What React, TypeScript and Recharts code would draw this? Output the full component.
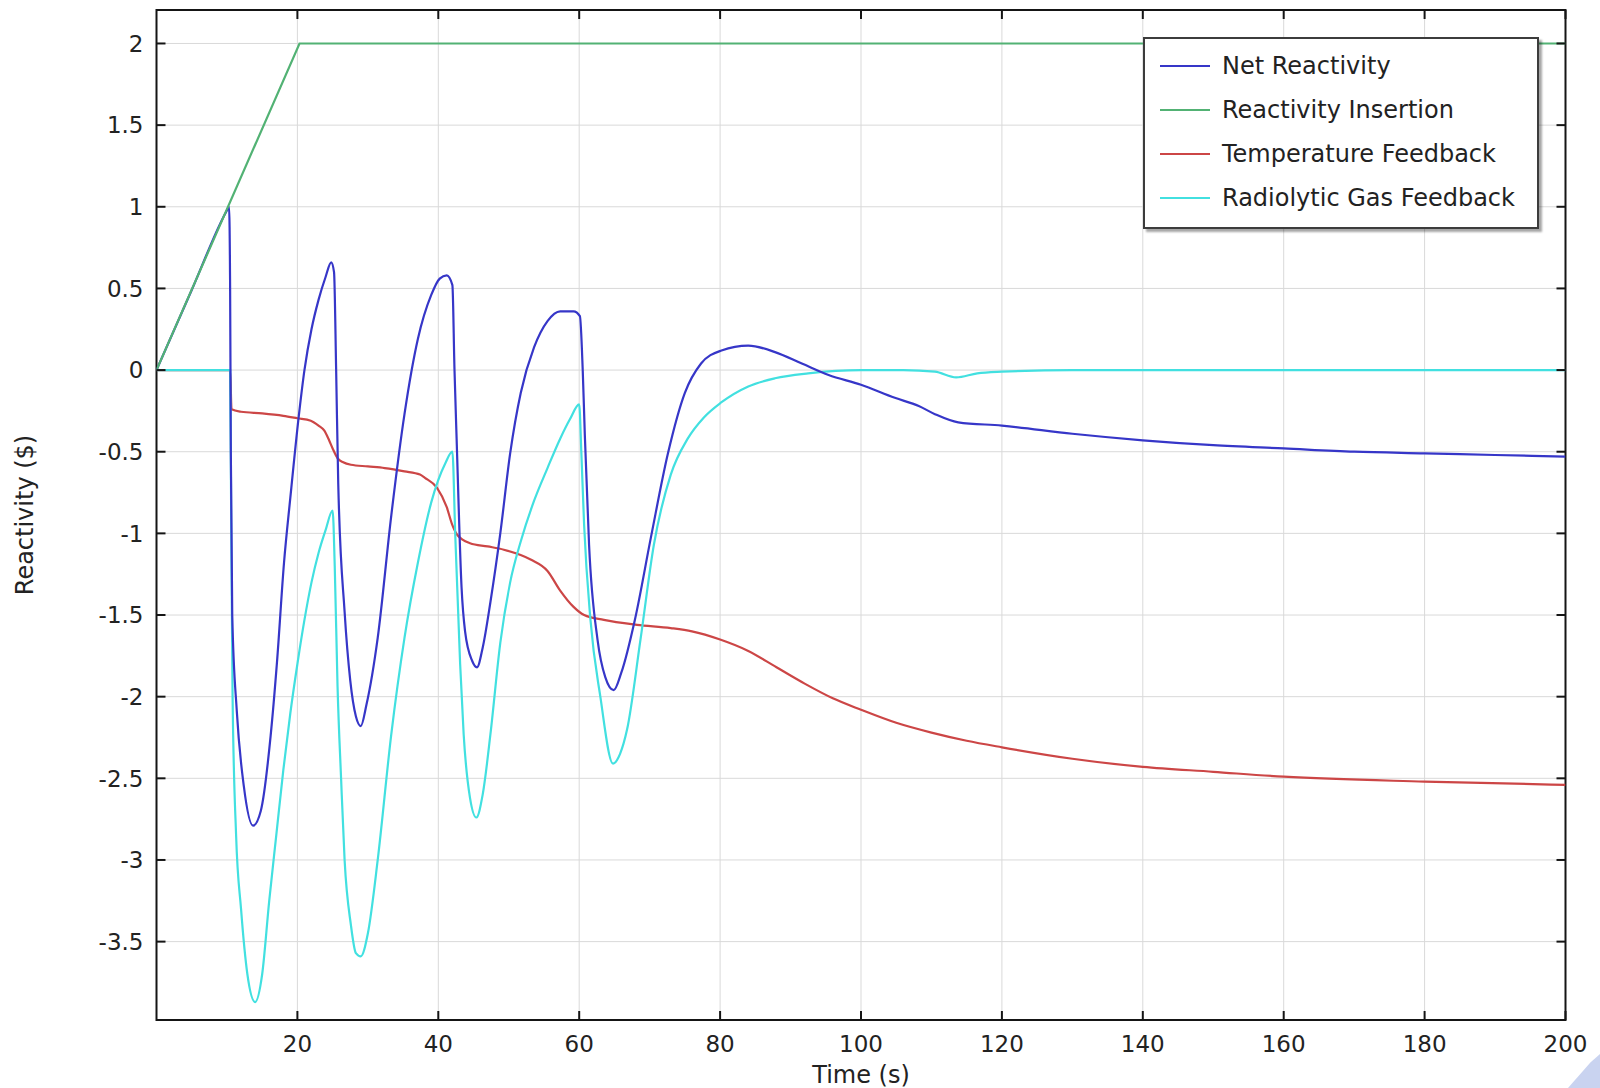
import React from 'react';
import { LineChart, Line, XAxis, YAxis, CartesianGrid, Legend, ReferenceArea, Label } from 'recharts';

// ---- tick labels ----
const timeTicks = [20, 40, 60, 80, 100, 120, 140, 160, 180, 200];
const reactivityTicks = [-3.5, -3, -2.5, -2, -1.5, -1, -0.5, 0, 0.5, 1, 1.5, 2];

// ---- series names / colours ----
const seriesNames = ['Net Reactivity', 'Reactivity Insertion', 'Temperature Feedback', 'Radiolytic Gas Feedback'];
const seriesColors = ['#3636c8', '#52b274', '#cc4646', '#42e0e0'];

// ---- Reactivity Insertion ----
const insertionTime = [0, 20.3, 200];
const insertionValue = [0, 2, 2];

// ---- Net Reactivity ----
const netTime = [
  0, 5, 9.9, 10.3, 10.45, 10.55, 10.75, 11.4, 12.4, 13.7, 14.8, 16.2, 17.1, 18.1, 19, 20.2, 21, 22, 23, 24, 24.8, 25.2,
  25.5, 25.8, 26.7, 27.5, 28.3, 29, 29.8, 31.4, 33.3, 35.2, 37.1, 39, 40.2, 41.2, 42, 42.3, 42.6, 43.3, 43.8, 44.8,
  45.5, 46.3, 47.4, 48.8, 50.2, 51.7, 53.6, 55.5, 57.3, 59.2, 60.1, 60.5, 60.8, 61.4, 62.6, 63.7, 64.9, 66, 67.9, 70.2,
  72.6, 75, 77.3, 80.2, 84, 87.8, 91.6, 95.4, 100, 104.8, 108.2, 110.5, 113.8, 120, 130, 140, 150, 160, 170, 180, 190,
  200,
];
const netValue = [
  0, 0.49, 0.97, 1.0, 0.5, -0.5, -1.5, -2.09, -2.55, -2.79, -2.7, -2.24, -1.79, -1.18, -0.78, -0.28, 0.0, 0.25, 0.43, 0.57, 0.66, 0.6,
  0.0, -0.7, -1.48, -1.9, -2.12, -2.18, -2.05, -1.64, -0.9, -0.27, 0.19, 0.46, 0.56, 0.58, 0.52, 0.0, -0.42, -1.33, -1.6, -1.78,
  -1.82, -1.7, -1.42, -1.0, -0.51, -0.14, 0.14, 0.3, 0.36, 0.36, 0.33, 0.0, -0.4, -1.07, -1.65, -1.88, -1.96, -1.85, -1.53, -1.02,
  -0.51, -0.14, 0.04, 0.12, 0.15, 0.11, 0.04, -0.03, -0.09, -0.17, -0.22, -0.27, -0.32, -0.34, -0.39, -0.43, -0.46, -0.48, -0.5, -0.51, -0.52,
  -0.53,
];

// ---- Temperature Feedback ----
const tempTime = [
  0, 10.45, 10.65, 12, 15, 18, 20, 21.9, 23, 23.8, 24.5, 25, 25.7, 26.5, 27.6, 30, 32.4, 35.2, 37.4, 38.1, 39.8, 41.2,
  42, 42.7, 44.5, 47, 49.3, 53.1, 55.5, 57.3, 59.2, 60.7, 63.5, 68.2, 73, 76, 80, 84, 88, 92, 96, 100, 105, 110, 115,
  120, 130, 140, 150, 160, 180, 200,
];
const tempValue = [
  0, 0, -0.24, -0.255, -0.265, -0.28, -0.295, -0.31, -0.34, -0.37, -0.43, -0.48, -0.54, -0.565, -0.58, -0.59, -0.6, -0.62, -0.64, -0.66, -0.72, -0.84,
  -0.95, -1.01, -1.06, -1.08, -1.1, -1.16, -1.23, -1.35, -1.45, -1.5, -1.53, -1.56, -1.58, -1.6, -1.65, -1.72, -1.82, -1.92, -2.01, -2.08, -2.16, -2.22, -2.27,
  -2.31, -2.38, -2.43, -2.46, -2.49, -2.52, -2.54,
];

// ---- Radiolytic Gas Feedback ----
const gasTime = [
  0, 10.45, 10.6, 10.8, 11.3, 12, 12.9, 14, 15, 16, 17, 18, 19, 20, 21, 22, 23, 24, 25, 25.3, 25.7, 26.2,
  26.7, 27.6, 28.3, 29, 30, 31.4, 33.3, 35.2, 37.1, 39, 41, 42, 42.4, 43.1, 43.6, 44.5, 45.4, 46.3, 47.4, 48.8, 50.2,
  51.7, 53.6, 55.5, 57.3, 58.7, 60, 60.3, 60.7, 61.6, 63, 64.8, 65.8, 66.8, 68.7, 70.6, 73, 75.4, 77.7, 80.1, 84, 87.8,
  92.5, 100, 106, 110.5, 113.5, 116.5, 120, 130, 200,
];
const gasValue = [
  0, 0, -0.9, -2.0, -2.85, -3.3, -3.7, -3.87, -3.7, -3.25, -2.85, -2.45, -2.1, -1.8, -1.53, -1.3, -1.12, -0.98, -0.86, -1.2, -1.94, -2.5,
  -3.0, -3.4, -3.57, -3.59, -3.45, -3.0, -2.24, -1.64, -1.18, -0.81, -0.57, -0.5, -1.0, -1.8, -2.23, -2.62, -2.74, -2.6, -2.23, -1.67, -1.3,
  -1.05, -0.8, -0.6, -0.42, -0.3, -0.21, -0.5, -0.95, -1.53, -2.0, -2.41, -2.35, -2.2, -1.65, -1.07, -0.64, -0.42, -0.29, -0.2, -0.1, -0.05,
  -0.02, 0, 0, -0.01, -0.045, -0.02, -0.01, 0, 0,
];

const toPoints = (ts: number[], vs: number[]) => ts.map((t, i) => ({ t, v: vs[i] }));
const netData = toPoints(netTime, netValue);
const insertionData = toPoints(insertionTime, insertionValue);
const tempData = toPoints(tempTime, tempValue);
const gasData = toPoints(gasTime, gasValue);

// ---- layout ----
const W = 1600;
const H = 1088;
const PL = 156.5;
const PR = 1565.5;
const PT = 10;
const PB = 1020;
const FONT = '"DejaVu Sans", Verdana, sans-serif';
const TICK_LEN = 9;
const AXIS_COLOR = '#151515';

const YTick = (props: any) => {
  const { y, payload } = props;
  return (
    <g>
      <line x1={PL} x2={PL + TICK_LEN} y1={y} y2={y} stroke={AXIS_COLOR} strokeWidth={2} />
      <line x1={PR - TICK_LEN} x2={PR} y1={y} y2={y} stroke={AXIS_COLOR} strokeWidth={2} />
      <text x={PL - 13} y={y} dy="0.36em" textAnchor="end" fontSize={23} fontFamily={FONT} fill="#222">
        {String(payload.value)}
      </text>
    </g>
  );
};

const XTick = (props: any) => {
  const { x, payload } = props;
  return (
    <g>
      <line x1={x} x2={x} y1={PB} y2={PB - TICK_LEN} stroke={AXIS_COLOR} strokeWidth={2} />
      <line x1={x} x2={x} y1={PT} y2={PT + TICK_LEN} stroke={AXIS_COLOR} strokeWidth={2} />
      <text x={x} y={PB + 32} textAnchor="middle" fontSize={23} fontFamily={FONT} fill="#222">
        {String(payload.value)}
      </text>
    </g>
  );
};

const renderLegend = () => (
  <div
    style={{
      width: 396,
      height: 192,
      boxSizing: 'border-box',
      border: '2px solid #3c3c3c',
      background: '#fff',
      boxShadow: '3px 3px 2px rgba(0,0,0,0.35)',
      paddingTop: 5,
      fontFamily: FONT,
      fontSize: 24,
      color: '#222',
    }}
  >
    {seriesNames.map((name, i) => (
      <div key={name} style={{ height: 44, display: 'flex', alignItems: 'center', paddingLeft: 15 }}>
        <div style={{ width: 50, height: 2, background: seriesColors[i], marginRight: 12 }} />
        <span style={{ lineHeight: '44px', whiteSpace: 'nowrap' }}>{name}</span>
      </div>
    ))}
  </div>
);

export default function App() {
  return (
    <div style={{ position: 'absolute', left: 0, top: 0, width: W, height: H, background: '#fff' }}>
      <LineChart width={W} height={H} margin={{ top: PT, right: W - PR, left: 0, bottom: 0 }}>
        <CartesianGrid stroke="#d9d9d9" strokeWidth={1} />
        <XAxis
          dataKey="t"
          type="number"
          domain={[0, 200]}
          ticks={timeTicks}
          interval={0}
          allowDataOverflow
          height={H - PB}
          axisLine={false}
          tickLine={false}
          tick={<XTick />}
        >
          <Label
            content={() => (
              <text x={(PL + PR) / 2} y={1083} textAnchor="middle" fontSize={24} fontFamily={FONT} fill="#222">
                Time (s)
              </text>
            )}
          />
        </XAxis>
        <YAxis
          type="number"
          domain={[-3.98, 2.205]}
          ticks={reactivityTicks}
          interval={0}
          allowDataOverflow
          width={PL}
          axisLine={false}
          tickLine={false}
          tick={<YTick />}
        >
          <Label
            content={() => (
              <text
                x={25}
                y={(PT + PB) / 2}
                transform={`rotate(-90 25 ${(PT + PB) / 2})`}
                textAnchor="middle"
                dominantBaseline="central"
                fontSize={24}
                fontFamily={FONT}
                fill="#222"
              >
                Reactivity ($)
              </text>
            )}
          />
        </YAxis>
        <ReferenceArea x1={0} x2={200} y1={-3.98} y2={2.205} fill="none" stroke={AXIS_COLOR} strokeWidth={2} />
        <Line data={tempData} dataKey="v" name={seriesNames[2]} type="monotone" stroke={seriesColors[2]} strokeWidth={2.2} dot={false} isAnimationActive={false} />
        <Line data={gasData} dataKey="v" name={seriesNames[3]} type="monotone" stroke={seriesColors[3]} strokeWidth={2.2} dot={false} isAnimationActive={false} />
        <Line data={netData} dataKey="v" name={seriesNames[0]} type="monotone" stroke={seriesColors[0]} strokeWidth={2.2} dot={false} isAnimationActive={false} />
        <Line data={insertionData} dataKey="v" name={seriesNames[1]} type="linear" stroke={seriesColors[1]} strokeWidth={2.2} dot={false} isAnimationActive={false} />
        <Legend
          layout="vertical"
          align="center"
          verticalAlign="middle"
          wrapperStyle={{ left: 1143, top: 37, width: 'auto', height: 'auto' }}
          content={renderLegend}
        />
      </LineChart>
      <div
        style={{
          position: 'absolute',
          left: 1568,
          top: 1054,
          width: 32,
          height: 34,
          background: '#c9d3f0',
          clipPath: 'polygon(100% 0%, 100% 100%, 0% 100%, 70% 25%)',
        }}
      />
    </div>
  );
}
